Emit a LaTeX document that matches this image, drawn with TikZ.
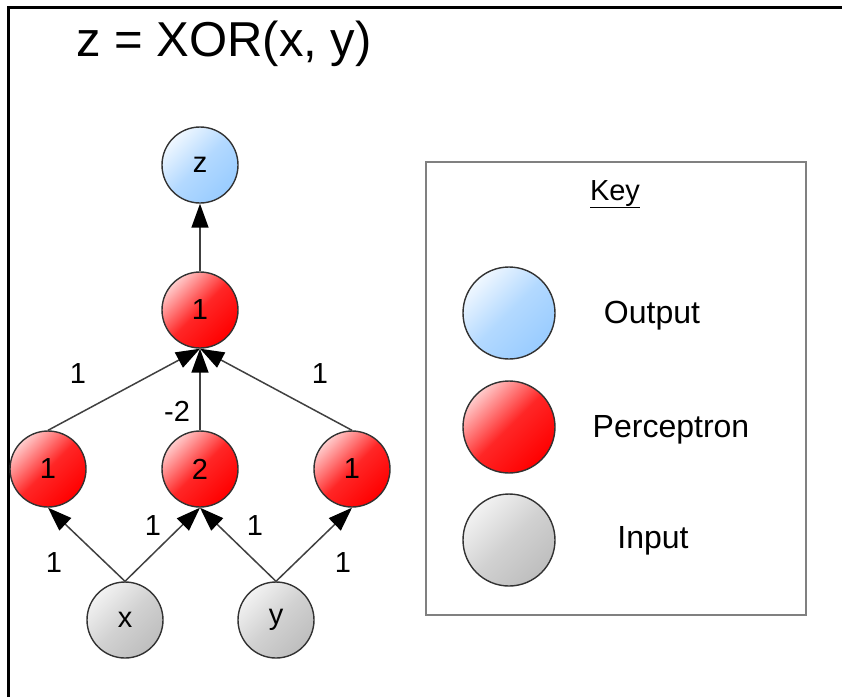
\documentclass[tikz,border=0pt]{standalone}
\usepackage{xcolor}
\usepackage{fontspec}
\setmainfont{Liberation Sans}
\usepackage{tikz}
\usetikzlibrary{arrows.meta}

\definecolor{outblue}{RGB}{153,204,255}
\definecolor{inputgray}{RGB}{190,190,190}
\definecolor{rimgray}{RGB}{50,50,50}

\tikzset{
  unit/.style={circle, draw=rimgray, line width=1.4pt, inner sep=0pt,
    minimum size=76pt, font=\fontsize{29}{31}\selectfont},
  outunit/.style={unit, top color=outblue!15, bottom color=outblue, middle color=outblue!75, shading angle=45},
  perceptron/.style={unit, top color=red!20, bottom color=red, middle color=red!85, shading angle=45},
  inunit/.style={unit, top color=white!95!black, bottom color=inputgray, middle color=inputgray!70, shading angle=45},
  keyunit/.style={minimum size=92pt},
  wire/.style={-{Triangle[length=24pt,width=17pt,color=black]}, line width=1.5pt, draw=black!75},
  weight/.style={anchor=base, font=\fontsize{29}{31}\selectfont},
  keytext/.style={anchor=base, font=\fontsize{32}{35}\selectfont}
}

\begin{document}
\begin{tikzpicture}[x=1pt, y=-1pt]
\useasboundingbox (0,0) rectangle (842,697);
% Frame
\draw[line width=3pt] (8.5,697) -- (8.5,7) -- (842,7);
% Title
\node[anchor=base, font=\fontsize{49}{54}\selectfont] (title) at (224,56) {z = XOR(x, y)};
% Network units
\node[outunit] (z) at (200,165) {z};
\node[perceptron] (top) at (200,310) {1};
\foreach \name/\x/\val in {hl/48/1, hm/200/2, hr/352/1}{
  \node[perceptron] (\name) at (\x,469) {\val};
}
\node[inunit] (x) at (125,620) {x};
\node[inunit] (y) at (276,620) {y};
% Connectors
\draw[wire] (top.north) -- (z.south);
\foreach \name in {hl,hm,hr}{
  \draw[wire] (\name.north) -- (top.south);
}
\draw[wire] (x.north) -- (hl.south);
\draw[wire] (x.north) -- (hm.south);
\draw[wire] (y.north) -- (hm.south);
\draw[wire] (y.north) -- (hr.south);
% Weights
\foreach \name/\x/\y/\w in {wl/78/383/1, wm/177/421/-2, wr/320/383/1,
  wxl/54/572/1, wxm/153/535/1, wym/255/535/1, wyr/343/572/1}{
  \node[weight] (\name) at (\x,\y) {\w};
}
% Key
\draw[draw=black!50, line width=2.5pt] (426,162) rectangle (806,615);
\node[anchor=base, font=\fontsize{29}{31}\selectfont] (keyhead) at (615,200) {\underline{Key}};
\node[outunit, keyunit] (kout) at (509,313) {};
\node[perceptron, keyunit] (kper) at (509,427) {};
\node[inunit, keyunit] (kin) at (509,540) {};
\node[keytext] (lout) at (652,323) {Output};
\node[keytext] (lper) at (671,437) {Perceptron};
\node[keytext] (lin) at (653,548) {Input};
\end{tikzpicture}
\end{document}
